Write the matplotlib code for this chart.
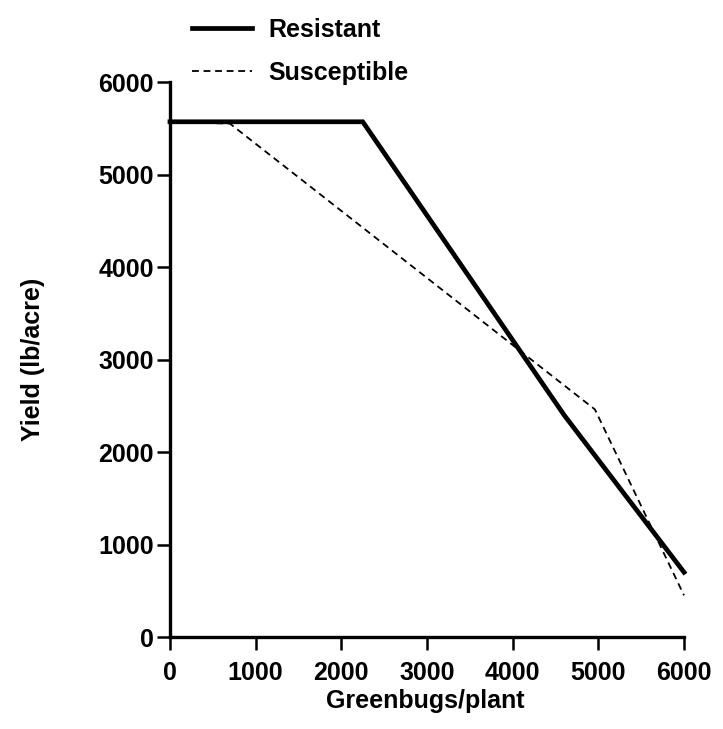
import matplotlib
matplotlib.use("Agg")
import matplotlib.pyplot as plt

plt.rcParams["font.family"] = ["Liberation Sans", "DejaVu Sans"]

# Greenbugs per plant vs yield (lb/acre)
resistant_x = [0, 2250, 4600, 6000]
resistant_y = [5570, 5570, 2400, 700]

susceptible_x = [0, 700, 4960, 6000]
susceptible_y = [5570, 5550, 2460, 450]

x_ticks = [0, 1000, 2000, 3000, 4000, 5000, 6000]
y_ticks = [0, 1000, 2000, 3000, 4000, 5000, 6000]

fig = plt.figure(figsize=(7.23, 7.29), dpi=100)
ax = fig.add_axes([0.2351, 0.1262, 0.7110, 0.7613])

ax.plot(resistant_x, resistant_y, color="black", lw=3.4,
        solid_joinstyle="miter", label="Resistant", clip_on=False)
ax.plot(susceptible_x, susceptible_y, color="black", lw=1.3,
        linestyle=(0, (3.8, 2.6)), label="Susceptible", clip_on=False)

ax.set_xlim(0, 6000)
ax.set_ylim(0, 6000)
ax.set_xticks(x_ticks)
ax.set_yticks(y_ticks)

for side in ("top", "right"):
    ax.spines[side].set_visible(False)
for side in ("left", "bottom"):
    ax.spines[side].set_linewidth(2.4)

ax.tick_params(axis="both", direction="out", length=9.5, width=1.8,
               labelsize=18)
ax.tick_params(axis="x", pad=8)
ax.tick_params(axis="y", pad=2)
for lbl in ax.get_xticklabels() + ax.get_yticklabels():
    lbl.set_fontweight("bold")

ax.set_xlabel("Greenbugs/plant", fontsize=18, fontweight="bold")
ax.set_ylabel("Yield (lb/acre)", fontsize=18, fontweight="bold")
ax.xaxis.set_label_coords(0.496, -0.094)
ax.yaxis.set_label_coords(-0.243, 0.5)

ax.legend(loc="upper left", bbox_to_anchor=(0.2656, 0.975),
          bbox_transform=fig.transFigure, frameon=False,
          prop={"size": 18, "weight": "bold"}, handlelength=2.4,
          handletextpad=0.65, labelspacing=0.75, borderaxespad=0,
          borderpad=0)

fig.savefig("out.png", dpi=100)
